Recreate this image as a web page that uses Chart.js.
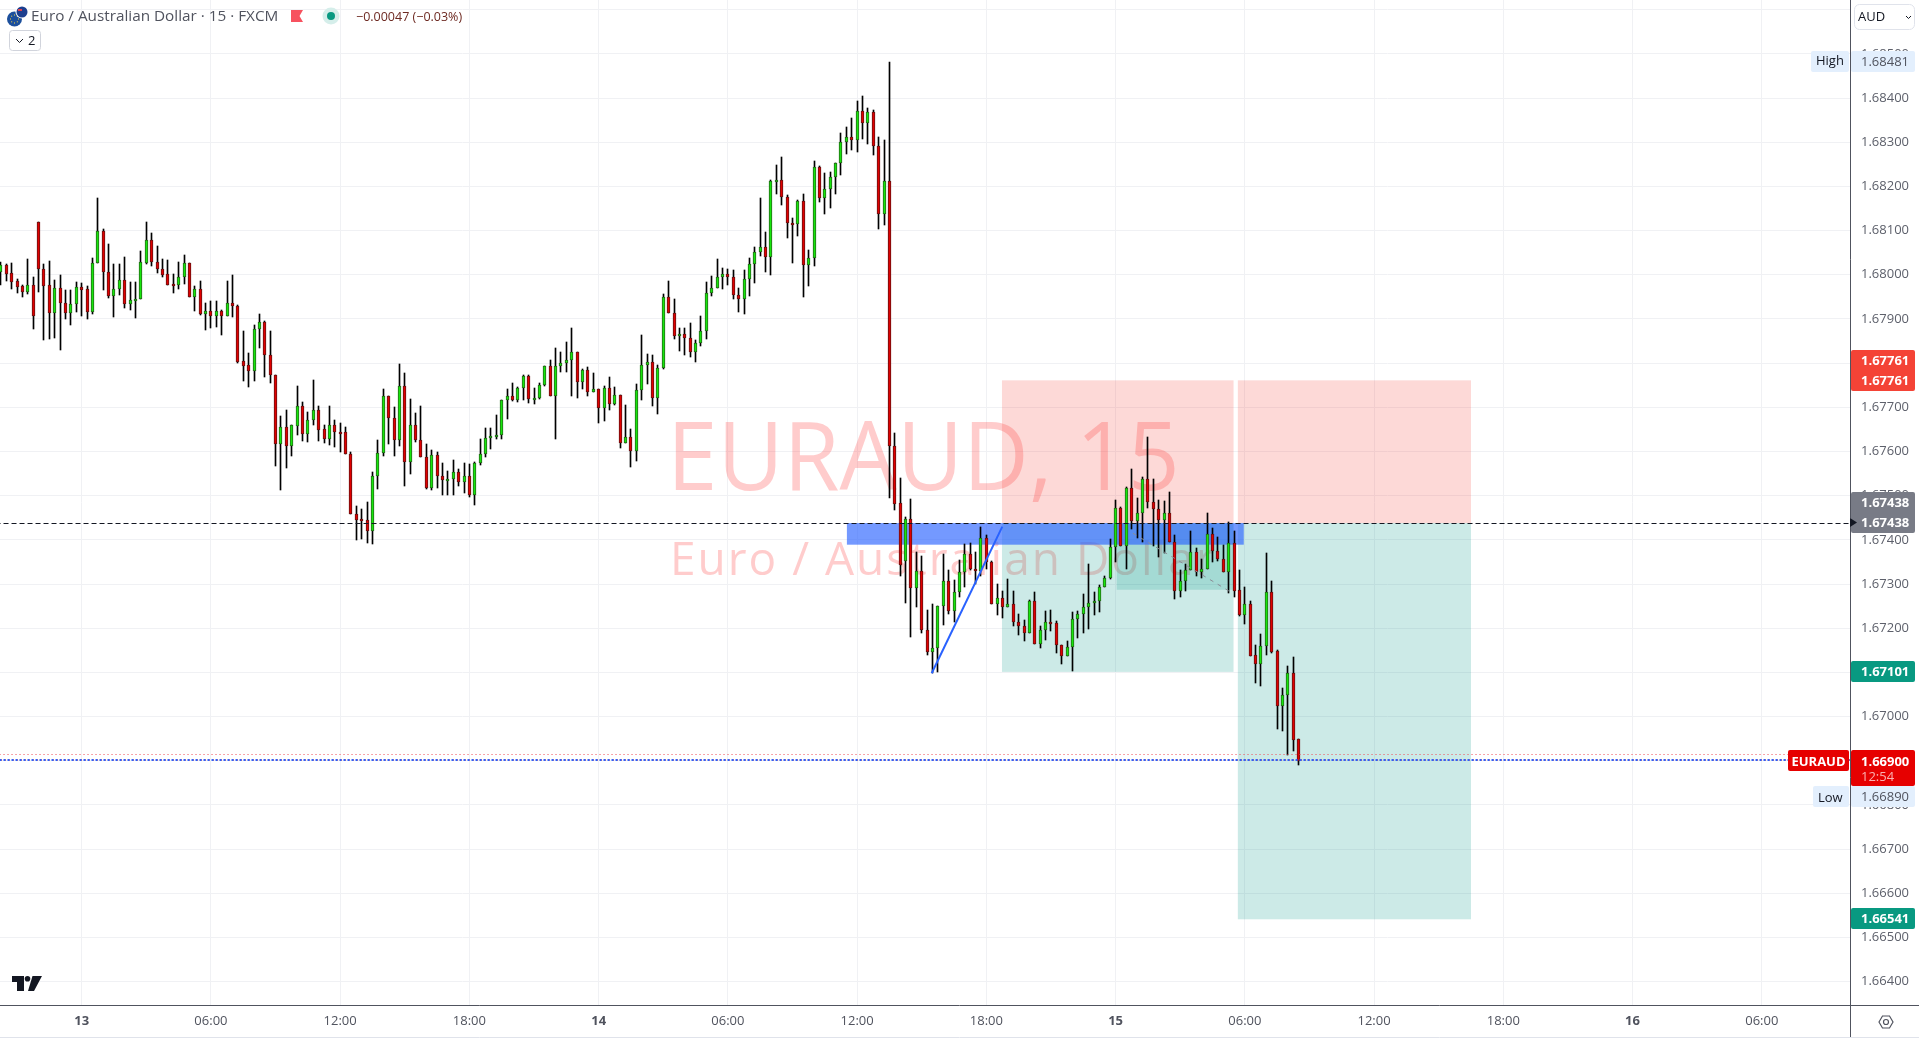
<!DOCTYPE html>
<html>
<head>
<meta charset="utf-8">
<title>EURAUD 15</title>
<script src="https://cdn.jsdelivr.net/npm/chart.js@4/dist/chart.umd.min.js"></script>
<style>
html, body { margin: 0; padding: 0; background: #fff; overflow: hidden; }
canvas { display: block; }
</style>
</head>
<body>
<canvas id="graficoVelas" width="1919" height="1038"></canvas>
<script>
//Precios, una vela cada 15 minutos
const opens = [
1.68007,1.68022,1.68003,1.67985,1.67974,1.67961,1.67976,1.68119,1.68014,1.67976,
1.67914,1.67971,1.67937,1.67914,1.67933,1.67973,1.67967,1.67916,1.68026,1.68098,
1.68007,1.67952,1.67967,1.67989,1.67934,1.67943,1.67946,1.68027,1.68078,1.68030,
1.68014,1.68001,1.67978,1.67976,1.67996,1.68026,1.67950,1.67967,1.67912,1.67917,
1.67907,1.67919,1.67907,1.67937,1.67930,1.67804,1.67795,1.67782,1.67878,1.67892,
1.67819,1.67774,1.67617,1.67656,1.67613,1.67658,1.67704,1.67640,1.67672,1.67695,
1.67650,1.67628,1.67661,1.67645,1.67643,1.67595,1.67458,1.67447,1.67445,1.67419,
1.67545,1.67597,1.67726,1.67676,1.67625,1.67748,1.67576,1.67660,1.67626,1.67588,
1.67517,1.67592,1.67545,1.67535,1.67537,1.67554,1.67530,1.67545,1.67501,1.67573,
1.67594,1.67631,1.67635,1.67637,1.67717,1.67726,1.67716,1.67744,1.67771,1.67719,
1.67720,1.67750,1.67794,1.67725,1.67794,1.67800,1.67807,1.67825,1.67757,1.67785,
1.67734,1.67742,1.67698,1.67744,1.67707,1.67728,1.67619,1.67633,1.67600,1.67739,
1.67796,1.67803,1.67720,1.67789,1.67950,1.67914,1.67861,1.67866,1.67857,1.67825,
1.67845,1.67873,1.67959,1.67970,1.67995,1.68002,1.67995,1.67955,1.67946,1.67991,
1.68025,1.68052,1.68063,1.68040,1.68213,1.68215,1.68177,1.68118,1.68115,1.68167,
1.68023,1.68038,1.68244,1.68174,1.68195,1.68222,1.68254,1.68301,1.68312,1.68306,
1.68371,1.68344,1.68369,1.68292,1.68138,1.68213,1.67612,1.67483,1.67353,1.67447,
1.67290,1.67329,1.67196,1.67147,1.67155,1.67250,1.67307,1.67239,1.67282,1.67327,
1.67368,1.67334,1.67329,1.67404,1.67350,1.67254,1.67268,1.67247,1.67254,1.67214,
1.67205,1.67188,1.67261,1.67165,1.67196,1.67214,1.67211,1.67162,1.67138,1.67157,
1.67220,1.67232,1.67248,1.67257,1.67261,1.67293,1.67313,1.67384,1.67472,1.67387,
1.67517,1.67442,1.67460,1.67538,1.67486,1.67470,1.67444,1.67461,1.67395,1.67285,
1.67306,1.67331,1.67372,1.67328,1.67334,1.67413,1.67374,1.67356,1.67328,1.67393,
1.67286,1.67229,1.67254,1.67139,1.67118,1.67159,1.67282,1.67148,1.67023,1.67048,
1.67098,1.66949]
const highs = [
1.68028,1.68024,1.68026,1.67990,1.67977,1.68035,1.67995,1.68119,1.68024,1.68031,
1.67988,1.67999,1.67965,1.67965,1.67983,1.67981,1.67974,1.68038,1.68174,1.68103,
1.68069,1.68024,1.68024,1.68040,1.67983,1.67983,1.68054,1.68119,1.68094,1.68065,
1.68035,1.68033,1.68001,1.68029,1.68044,1.68026,1.67974,1.67986,1.67936,1.67940,
1.67940,1.67921,1.67986,1.67999,1.67931,1.67872,1.67822,1.67886,1.67912,1.67895,
1.67872,1.67774,1.67681,1.67693,1.67659,1.67749,1.67711,1.67690,1.67761,1.67702,
1.67659,1.67704,1.67672,1.67665,1.67655,1.67599,1.67477,1.67470,1.67486,1.67554,
1.67626,1.67742,1.67726,1.67701,1.67798,1.67778,1.67719,1.67687,1.67703,1.67617,
1.67603,1.67599,1.67574,1.67556,1.67581,1.67560,1.67574,1.67572,1.67576,1.67628,
1.67653,1.67653,1.67683,1.67717,1.67742,1.67755,1.67746,1.67773,1.67773,1.67744,
1.67755,1.67794,1.67807,1.67834,1.67825,1.67848,1.67880,1.67825,1.67787,1.67791,
1.67778,1.67742,1.67748,1.67769,1.67746,1.67728,1.67705,1.67651,1.67753,1.67864,
1.67821,1.67819,1.67796,1.67957,1.67986,1.67946,1.67880,1.67880,1.67891,1.67853,
1.67907,1.67984,1.67998,1.68036,1.68016,1.68013,1.68011,1.67970,1.68011,1.68038,
1.68063,1.68174,1.68097,1.68215,1.68249,1.68267,1.68181,1.68129,1.68170,1.68183,
1.68056,1.68258,1.68247,1.68231,1.68233,1.68254,1.68322,1.68335,1.68355,1.68394,
1.68405,1.68378,1.68374,1.68312,1.68306,1.68481,1.67642,1.67540,1.67452,1.67492,
1.67372,1.67363,1.67241,1.67255,1.67250,1.67368,1.67331,1.67309,1.67354,1.67390,
1.67393,1.67372,1.67429,1.67411,1.67352,1.67300,1.67284,1.67311,1.67284,1.67232,
1.67218,1.67263,1.67282,1.67205,1.67239,1.67241,1.67216,1.67162,1.67171,1.67236,
1.67239,1.67277,1.67345,1.67282,1.67298,1.67318,1.67402,1.67490,1.67474,1.67519,
1.67560,1.67495,1.67542,1.67633,1.67538,1.67490,1.67488,1.67508,1.67411,1.67331,
1.67345,1.67420,1.67381,1.67356,1.67461,1.67427,1.67406,1.67388,1.67441,1.67420,
1.67331,1.67293,1.67261,1.67162,1.67187,1.67370,1.67307,1.67150,1.67064,1.67114,
1.67134,1.66949]
const lows = [
1.67977,1.67986,1.67967,1.67959,1.67950,1.67957,1.67878,1.67961,1.67853,1.67855,
1.67857,1.67830,1.67900,1.67887,1.67916,1.67907,1.67900,1.67912,1.68026,1.67966,
1.67948,1.67905,1.67955,1.67925,1.67921,1.67903,1.67946,1.68025,1.68020,1.68004,
1.67995,1.67977,1.67959,1.67968,1.67980,1.67950,1.67918,1.67909,1.67875,1.67880,
1.67882,1.67864,1.67907,1.67905,1.67801,1.67760,1.67746,1.67760,1.67835,1.67769,
1.67755,1.67567,1.67513,1.67563,1.67590,1.67638,1.67624,1.67622,1.67660,1.67624,
1.67619,1.67615,1.67610,1.67599,1.67594,1.67458,1.67399,1.67401,1.67392,1.67390,
1.67514,1.67589,1.67616,1.67589,1.67612,1.67521,1.67548,1.67621,1.67587,1.67514,
1.67512,1.67517,1.67501,1.67501,1.67501,1.67521,1.67505,1.67496,1.67478,1.67570,
1.67587,1.67605,1.67628,1.67628,1.67673,1.67714,1.67711,1.67716,1.67709,1.67707,
1.67718,1.67748,1.67725,1.67628,1.67779,1.67779,1.67725,1.67721,1.67741,1.67725,
1.67734,1.67664,1.67668,1.67693,1.67705,1.67607,1.67619,1.67564,1.67578,1.67716,
1.67753,1.67702,1.67684,1.67787,1.67913,1.67854,1.67827,1.67818,1.67813,1.67802,
1.67838,1.67854,1.67953,1.67970,1.67967,1.67977,1.67945,1.67915,1.67911,1.67952,
1.67982,1.68043,1.68007,1.68000,1.68183,1.68158,1.68084,1.68027,1.68088,1.67950,
1.67975,1.68020,1.68165,1.68138,1.68152,1.68183,1.68226,1.68274,1.68283,1.68278,
1.68308,1.68297,1.68272,1.68104,1.68113,1.67495,1.67467,1.67317,1.67256,1.67179,
1.67249,1.67188,1.67140,1.67098,1.67100,1.67208,1.67233,1.67213,1.67270,1.67293,
1.67331,1.67300,1.67318,1.67334,1.67254,1.67229,1.67222,1.67247,1.67206,1.67184,
1.67170,1.67188,1.67165,1.67156,1.67174,1.67193,1.67143,1.67118,1.67136,1.67104,
1.67177,1.67189,1.67198,1.67229,1.67236,1.67293,1.67311,1.67350,1.67387,1.67335,
1.67424,1.67404,1.67395,1.67473,1.67387,1.67360,1.67370,1.67394,1.67265,1.67270,
1.67285,1.67331,1.67317,1.67313,1.67334,1.67349,1.67351,1.67327,1.67279,1.67270,
1.67227,1.67209,1.67136,1.67075,1.67068,1.67140,1.67143,1.66971,1.66968,1.66914,
1.66923,1.66890]
const closes = [
1.68022,1.68001,1.67984,1.67973,1.67961,1.67976,1.67907,1.68014,1.67975,1.67914,
1.67971,1.67937,1.67914,1.67933,1.67973,1.67966,1.67916,1.68026,1.68098,1.68007,
1.67952,1.67967,1.67989,1.67934,1.67944,1.67946,1.68028,1.68078,1.68029,1.68014,
1.68000,1.67977,1.67975,1.67996,1.68026,1.67950,1.67967,1.67912,1.67917,1.67907,
1.67919,1.67907,1.67937,1.67930,1.67803,1.67794,1.67782,1.67878,1.67892,1.67819,
1.67773,1.67617,1.67656,1.67613,1.67659,1.67704,1.67640,1.67672,1.67695,1.67649,
1.67628,1.67661,1.67644,1.67642,1.67594,1.67458,1.67446,1.67444,1.67419,1.67545,
1.67597,1.67726,1.67675,1.67625,1.67748,1.67576,1.67660,1.67625,1.67587,1.67517,
1.67592,1.67544,1.67535,1.67538,1.67554,1.67530,1.67545,1.67501,1.67574,1.67594,
1.67631,1.67635,1.67637,1.67717,1.67726,1.67716,1.67744,1.67771,1.67719,1.67721,
1.67751,1.67794,1.67725,1.67794,1.67800,1.67807,1.67825,1.67757,1.67785,1.67734,
1.67742,1.67698,1.67744,1.67707,1.67728,1.67619,1.67633,1.67600,1.67739,1.67796,
1.67803,1.67720,1.67789,1.67950,1.67913,1.67861,1.67866,1.67856,1.67825,1.67846,
1.67873,1.67959,1.67970,1.67995,1.68002,1.67995,1.67955,1.67946,1.67991,1.68025,
1.68052,1.68063,1.68040,1.68213,1.68215,1.68177,1.68118,1.68115,1.68167,1.68023,
1.68038,1.68244,1.68174,1.68195,1.68222,1.68254,1.68301,1.68312,1.68306,1.68371,
1.68344,1.68369,1.68292,1.68138,1.68213,1.67612,1.67482,1.67343,1.67447,1.67290,
1.67329,1.67195,1.67147,1.67155,1.67250,1.67307,1.67238,1.67282,1.67327,1.67368,
1.67334,1.67329,1.67404,1.67350,1.67254,1.67268,1.67247,1.67254,1.67213,1.67204,
1.67188,1.67261,1.67165,1.67196,1.67214,1.67211,1.67161,1.67138,1.67157,1.67220,
1.67232,1.67248,1.67257,1.67261,1.67293,1.67313,1.67384,1.67472,1.67387,1.67517,
1.67442,1.67461,1.67538,1.67485,1.67469,1.67444,1.67461,1.67394,1.67285,1.67307,
1.67331,1.67372,1.67328,1.67334,1.67413,1.67374,1.67356,1.67328,1.67393,1.67285,
1.67229,1.67254,1.67138,1.67118,1.67159,1.67282,1.67147,1.67023,1.67048,1.67098,
1.66948,1.66900]

//Ejes
const priceTicks = [1.686,1.685,1.684,1.683,1.682,1.681,1.68,1.679,1.678,1.677,1.676,1.675,1.674,1.673,1.672,1.671,1.67,1.669,1.668,1.667,1.666,1.665,1.664]
const timeTicks = [15,39,63,87,111,135,159,183,207,231,255,279,303,327]
const timeLabels = ['13','06:00','12:00','18:00','14','06:00','12:00','18:00','15','06:00','12:00','18:00','16','06:00']

//Herramientas dibujadas sobre el grafico: [vela inicio, vela fin, precio arriba, precio abajo]
const entryPrice = 1.67438
const stopBoxes = [[185.9,228.9,1.67761,entryPrice],[229.7,273,1.67761,entryPrice]]
const targetBoxes = [[185.9,228.9,entryPrice,1.67101],[229.7,273,entryPrice,1.66541],[207.2,228.9,entryPrice,1.67287]]
const zoneBox = [157.1,230.8,entryPrice,1.67389]
const blueLine = [[172.85,1.67098],[185.96,1.67430]]
const greyLine = [[210.2,1.67415],[228.2,1.67283]]
const lastPrice = 1.66902
const prevPrice = 1.66915

const font = '"Open Sans", sans-serif'
const greenFill = '#17e60d', greenEdge = '#236a16'
const redFill = '#e00000', redEdge = '#681010'
const isUp = i => closes[i] >= opens[i]

const wicks = highs.map((h, i) => ({x: i, y: [lows[i], h]}))
const bodies = opens.map((o, i) => ({x: i, y: [o, closes[i]]}))
const hLine = p => [{x: -1, y: p}, {x: 344, y: p}]
const toXY = pts => pts.map(p => ({x: p[0], y: p[1]}))

const lineSet = (data, color, width, dash, offset) => ({
	type: 'line', data: data, borderColor: color, borderWidth: width, borderDash: dash || [],
	borderDashOffset: offset || 0, pointRadius: 0, fill: false, tension: 0, order: 1
})

//Textos, cajas y etiquetas del eje
const roundBox = (ctx, x, y, w, h, r, fill, stroke) => {
	ctx.beginPath()
	ctx.roundRect(x, y, w, h, r)
	if (fill) { ctx.fillStyle = fill; ctx.fill() }
	if (stroke) { ctx.strokeStyle = stroke; ctx.lineWidth = 1; ctx.stroke() }
}
const label = (ctx, text, x, y, color, f, align) => {
	ctx.font = f
	ctx.fillStyle = color
	ctx.textAlign = align || 'left'
	ctx.textBaseline = 'middle'
	ctx.fillText(text, x, y)
}

const velasPlugin = {
	id: 'velas',
	beforeDatasetsDraw(chart) {
		const ctx = chart.ctx, xs = chart.scales.x, ys = chart.scales.y
		chart.data.datasets.forEach((ds, d) => {
			const points = chart.getDatasetMeta(d).data
			if (ds.type === 'line') {
				//Lineas horizontales en pixel entero
				if (points[0].y === points[1].y) {
					const y = points[0].y
					const snapped = ds.borderWidth % 2 ? Math.floor(y) + 0.5 : Math.round(y)
					points.forEach(p => { p.y = snapped })
				}
				return
			}
			//Ajustar velas a pixel entero
			points.forEach(el => {
				el.x = Math.floor(el.x) + 0.5
				const top = Math.round(Math.min(el.y, el.base))
				const bottom = Math.round(Math.max(el.y, el.base))
				el.y = top
				el.base = Math.max(bottom, top + 2)
			})
		})
		ctx.save()
		const area = chart.chartArea
		ctx.beginPath()
		ctx.rect(area.left, area.top, area.right - area.left, area.bottom - area.top)
		ctx.clip()
		//Marca de agua
		ctx.save()
		ctx.translate(667, 463)
		ctx.scale(0.955, 1)
		label(ctx, 'EURAUD, 15', 0, 0, 'rgba(255,50,50,0.25)', '95px ' + font)
		ctx.restore()
		ctx.letterSpacing = '2px'
		label(ctx, 'Euro / Australian Dollar', 670, 562, 'rgba(255,50,50,0.25)', '46px ' + font)
		ctx.letterSpacing = '0px'
		const box = (b, color) => {
			const x0 = xs.getPixelForValue(b[0]), x1 = xs.getPixelForValue(b[1])
			const y0 = ys.getPixelForValue(b[2]), y1 = ys.getPixelForValue(b[3])
			ctx.fillStyle = color
			ctx.fillRect(x0, y0, x1 - x0, y1 - y0)
		}
		stopBoxes.forEach(b => box(b, 'rgba(244,67,54,0.2)'))
		targetBoxes.forEach(b => box(b, 'rgba(0,150,136,0.2)'))
		box(zoneBox, 'rgba(41,98,255,0.65)')
		ctx.restore()
	},
	afterDraw(chart) {
		const ctx = chart.ctx
		const f = '13px ' + font, fb = 'bold 13px ' + font
		ctx.save()
		//Lineas de los ejes
		ctx.strokeStyle = '#50535e'
		ctx.lineWidth = 1
		ctx.beginPath()
		ctx.moveTo(1850.5, 0); ctx.lineTo(1850.5, 1037)
		ctx.moveTo(0, 1005.5); ctx.lineTo(1919, 1005.5)
		ctx.stroke()
		ctx.strokeStyle = '#e0e3eb'
		ctx.beginPath()
		ctx.moveTo(0, 1037.5); ctx.lineTo(1919, 1037.5)
		ctx.stroke()

		//Selector de moneda
		roundBox(ctx, 1854.5, 4.5, 60, 25, 5, '#fff', '#e0e3eb')
		label(ctx, 'AUD', 1858, 17, '#131722', f)
		ctx.strokeStyle = '#131722'
		ctx.beginPath()
		ctx.moveTo(1906, 16); ctx.lineTo(1908.5, 18.5); ctx.lineTo(1911, 16)
		ctx.stroke()

		//Etiquetas de precio
		const tag = (x, y, w, h, bg, text, color, fnt) => {
			roundBox(ctx, x, y, w, h, 2, bg)
			label(ctx, text, 1861, y + h / 2 + 1, color, fnt)
		}
		tag(1851, 51, 64, 21, '#e3effd', '1.68481', '#50535e', f)
		roundBox(ctx, 1811, 51, 38, 21, 2, '#e3effd')
		label(ctx, 'High', 1816, 61.5, '#131722', f)

		roundBox(ctx, 1851, 350, 64, 41, 2, '#f44336')
		label(ctx, '1.67761', 1861, 361, '#fff', fb)
		label(ctx, '1.67761', 1861, 381, '#fff', fb)

		roundBox(ctx, 1851, 492, 64, 41, 2, '#787b86')
		label(ctx, '1.67438', 1861, 503, '#fff', fb)
		label(ctx, '1.67438', 1861, 523, '#fff', fb)
		ctx.fillStyle = '#131722'
		ctx.beginPath()
		ctx.moveTo(1850, 518); ctx.lineTo(1857, 522.5); ctx.lineTo(1850, 527)
		ctx.fill()

		tag(1851, 661, 64, 21, '#089981', '1.67101', '#fff', fb)
		tag(1851, 908, 64, 21, '#089981', '1.66541', '#fff', fb)

		roundBox(ctx, 1788, 750, 61, 21, 2, '#e60000')
		label(ctx, 'EURAUD', 1818.5, 762, '#fff', fb, 'center')
		roundBox(ctx, 1851, 750, 64, 36, 2, '#e60000')
		label(ctx, '1.66900', 1861, 762, '#fff', fb)
		label(ctx, '12:54', 1861, 777, '#fab0b0', f)

		tag(1851, 786, 64, 21, '#e3effd', '1.66890', '#50535e', f)
		roundBox(ctx, 1813, 786, 36, 21, 2, '#e3effd')
		label(ctx, 'Low', 1818, 798, '#131722', f)

		//Boton de ajustes
		ctx.strokeStyle = '#50535e'
		ctx.lineWidth = 1.2
		ctx.beginPath()
		ctx.moveTo(1879, 1022); ctx.lineTo(1882.5, 1016); ctx.lineTo(1889.5, 1016)
		ctx.lineTo(1893, 1022); ctx.lineTo(1889.5, 1028); ctx.lineTo(1882.5, 1028)
		ctx.closePath()
		ctx.moveTo(1888.5, 1022)
		ctx.arc(1886, 1022, 2.5, 0, Math.PI * 2)
		ctx.stroke()

		//Logo
		ctx.fillStyle = '#131722'
		ctx.fillRect(12, 976, 12, 6)
		ctx.fillRect(17, 976, 7, 15)
		ctx.beginPath()
		ctx.arc(27.5, 978.7, 2.8, 0, Math.PI * 2)
		ctx.fill()
		ctx.beginPath()
		ctx.moveTo(32.5, 976); ctx.lineTo(42, 976); ctx.lineTo(34, 991); ctx.lineTo(28, 991)
		ctx.closePath()
		ctx.fill()

		//Cabecera
		ctx.fillStyle = '#1c4f9c'
		ctx.beginPath(); ctx.arc(14.5, 19, 7.5, 0, Math.PI * 2); ctx.fill()
		ctx.fillStyle = '#ffd83d'
		for (let a = 0; a < 8; a++) {
			ctx.fillRect(14 + 4 * Math.cos(a * Math.PI / 4), 18.5 + 4 * Math.sin(a * Math.PI / 4), 1, 1)
		}
		ctx.fillStyle = '#fff'
		ctx.beginPath(); ctx.arc(22, 12, 6.5, 0, Math.PI * 2); ctx.fill()
		ctx.fillStyle = '#1d3f8f'
		ctx.beginPath(); ctx.arc(22, 12, 5.5, 0, Math.PI * 2); ctx.fill()
		ctx.fillStyle = '#e0424f'
		ctx.fillRect(18, 9, 4, 2)
		label(ctx, 'Euro / Australian Dollar · 15 · FXCM', 31, 17, '#50535e', '15.3px ' + font)
		ctx.fillStyle = '#f7525f'
		ctx.beginPath()
		ctx.moveTo(291, 10); ctx.lineTo(303, 10); ctx.lineTo(299.5, 16); ctx.lineTo(303, 22); ctx.lineTo(291, 22)
		ctx.closePath()
		ctx.fill()
		ctx.fillStyle = '#d5eeea'
		ctx.beginPath(); ctx.arc(331, 16, 8.5, 0, Math.PI * 2); ctx.fill()
		ctx.fillStyle = '#089981'
		ctx.beginPath(); ctx.arc(331, 16, 4, 0, Math.PI * 2); ctx.fill()
		label(ctx, '−0.00047 (−0.03%)', 356, 17, '#6e2a22', '12.5px ' + font)
		roundBox(ctx, 9.5, 30.5, 31, 20, 3, '#fff', '#d1d4dc')
		ctx.strokeStyle = '#131722'
		ctx.lineWidth = 1
		ctx.beginPath()
		ctx.moveTo(16, 39); ctx.lineTo(19.5, 42.5); ctx.lineTo(23, 39)
		ctx.stroke()
		label(ctx, '2', 28, 41, '#131722', '13px ' + font)
		ctx.restore()
	}
}

//Dias en negrita en el eje de tiempo
const timeFont = c => {
	const name = c.tick ? timeLabels[timeTicks.indexOf(c.tick.value)] : ''
	return {family: font, size: 13, weight: name && name.length < 3 ? 'bold' : 'normal'}
}

const chart = new Chart(document.getElementById('graficoVelas'), {
	type: 'bar',
	data: {
		datasets: [
			{
				data: wicks, barThickness: 1, grouped: false, order: 3,
				backgroundColor: '#000', borderWidth: 0
			},
			{
				data: bodies, barThickness: 3, grouped: false, order: 2,
				backgroundColor: bodies.map((b, i) => isUp(i) ? greenFill : redFill),
				borderColor: bodies.map((b, i) => isUp(i) ? greenEdge : redEdge),
				borderWidth: 1, borderSkipped: false
			},
			lineSet(toXY(blueLine), '#2962ff', 2),
			lineSet(toXY(greyLine), '#8a8d96', 1, [4, 5]),
			lineSet(hLine(prevPrice), '#ee4a55', 1, [1, 3]),
			lineSet(hLine(lastPrice), '#2962ff', 2, [2, 2]),
			lineSet(hLine(lastPrice), '#e60000', 2, [1, 3], 3),
			lineSet(hLine(entryPrice), '#131722', 1, [5, 3])
		]
	},
	plugins: [velasPlugin],
	options: {
		responsive: false,
		animation: false,
		layout: { padding: 0, autoPadding: false },
		plugins: { legend: { display: false }, tooltip: { enabled: false }, title: { display: false } },
		scales: {
			x: {
				type: 'linear',
				min: -0.17,
				max: 343.38,
				offset: false,
				grid: { color: '#f0f1f4', drawTicks: false, offset: false },
				border: { display: false },
				afterBuildTicks: s => { s.ticks = timeTicks.map(v => ({value: v})) },
				afterFit: s => { s.height = 33; s.paddingLeft = 0; s.paddingRight = 0 },
				ticks: {
					autoSkip: false, maxRotation: 0, padding: 8, color: '#50535e',
					font: timeFont,
					callback: v => timeLabels[timeTicks.indexOf(v)]
				}
			},
			y: {
				position: 'right',
				min: 1.66347,
				max: 1.68622,
				grid: { color: '#f0f1f4', drawTicks: false },
				border: { display: false },
				afterBuildTicks: s => { s.ticks = priceTicks.map(v => ({value: v})) },
				afterFit: s => { s.width = 69; s.paddingTop = 0; s.paddingBottom = 0 },
				ticks: {
					autoSkip: false, padding: 11, color: '#5d606b', crossAlign: 'near',
					font: {family: font, size: 13},
					callback: v => v.toFixed(5)
				}
			}
		}
	}
})
</script>
</body>
</html>
